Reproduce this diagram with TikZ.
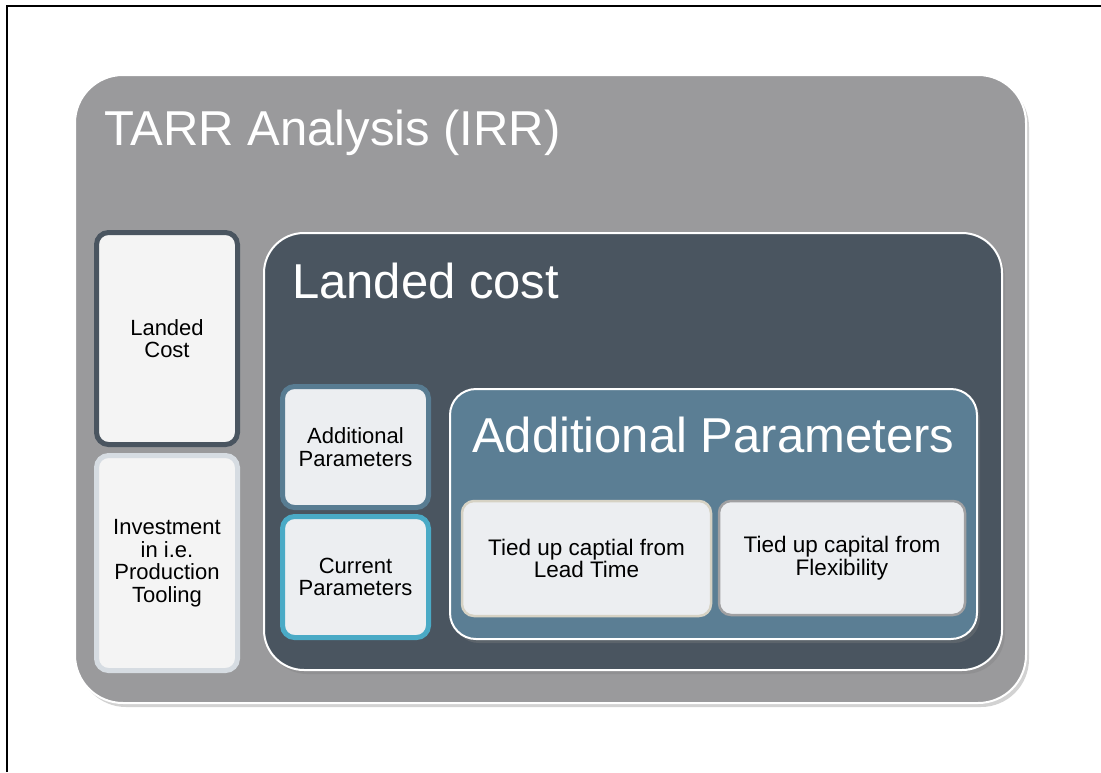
\documentclass[tikz,border=0pt]{standalone}
\usepackage{fontspec}
\setmainfont{Liberation Sans}
\usetikzlibrary{shadows}
\definecolor{outergray}{RGB}{154,154,156}
\definecolor{darkslate}{RGB}{74,85,96}
\definecolor{steelblue}{RGB}{91,126,148}
\definecolor{addborder}{RGB}{88,124,146}
\definecolor{cyanborder}{RGB}{74,170,198}
\definecolor{lightfill}{RGB}{244,244,244}
\definecolor{paleblue}{RGB}{236,238,241}
\definecolor{invborder}{RGB}{214,220,226}
\definecolor{beigeborder}{RGB}{214,210,196}
\definecolor{grayborder}{RGB}{160,160,162}
\tikzset{
  container/.style={draw=white, line width=2, drop shadow={shadow xshift=3pt, shadow yshift=-4pt, opacity=0.35}},
  title/.style={anchor=base west, text=white, font=\fontsize{49}{52}\selectfont, inner sep=0},
  smallbox/.style={rounded corners=12, line width=5, align=center, text=black,
    font=\fontsize{22}{22.5}\selectfont, inner sep=0},
  tiedbox/.style={rounded corners=12, line width=2.5, align=center, text=black,
    font=\fontsize{22.5}{22.5}\selectfont, inner sep=0, fill=paleblue}
}
\begin{document}
\begin{tikzpicture}[x=1pt,y=-1pt]
\useasboundingbox[fill=white] (0,0) rectangle (1101,772);
\draw[line width=2.5, black] (7,772) -- (7,6) -- (1101,6);
% outer container
\path[container, fill=outergray, rounded corners=48] (75,75) rectangle (1026,703);
\node[title] (tarr) at (104,145) {TARR Analysis (IRR)};
% left boxes
\node[smallbox, draw=darkslate, fill=lightfill, minimum width=141, minimum height=212] (landed) at (167,338.5) {Landed\\Cost};
\node[smallbox, draw=invborder, fill=lightfill, minimum width=141, minimum height=215] (invest) at (167,563) {Investment\\in i.e.\\Production\\Tooling};
% landed cost container
\path[container, fill=darkslate, rounded corners=40] (264,233) rectangle (1002,670);
\node[title] (lc) at (292,298) {Landed cost};
% small parameter boxes
\node[smallbox, draw=addborder, fill=paleblue, minimum width=146, minimum height=121] (addp) at (355.5,447) {Additional\\Parameters};
\node[smallbox, draw=cyanborder, fill=paleblue, minimum width=146, minimum height=121] (curp) at (355.5,577) {Current\\Parameters};
% additional parameters container
\path[container, fill=steelblue, rounded corners=26] (450,389) rectangle (977,639);
\node[title] (ap) at (472,452) {Additional Parameters};
\node[tiedbox, draw=beigeborder, minimum width=249, minimum height=115] (t1) at (586.5,558.5) {Tied up captial from\\Lead Time};
\node[tiedbox, draw=grayborder, minimum width=246, minimum height=114] (t2) at (842,558) {Tied up capital from\\Flexibility};
\end{tikzpicture}
\end{document}
